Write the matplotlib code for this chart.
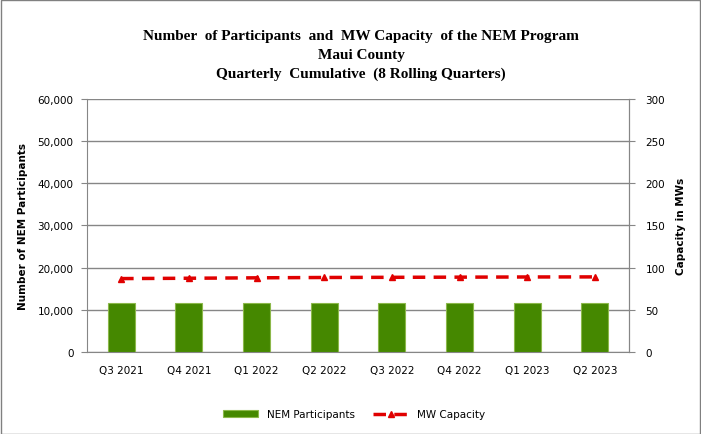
import matplotlib
matplotlib.use("Agg")
import matplotlib.pyplot as plt
import numpy as np
from matplotlib.patches import Rectangle

quarters = ["Q3 2021", "Q4 2021", "Q1 2022", "Q2 2022", "Q3 2022", "Q4 2022", "Q1 2023", "Q2 2023"]
participants = [11550, 11580, 11600, 11620, 11640, 11660, 11680, 11700]
mw_capacity = [87.0, 87.4, 87.9, 88.3, 88.5, 88.7, 88.9, 89.0]

title = ("Number  of Participants  and  MW Capacity  of the NEM Program\n"
         "Maui County\n"
         "Quarterly  Cumulative  (8 Rolling Quarters)")

fig = plt.figure(figsize=(7.01, 4.35), dpi=100)
fig.patch.set_facecolor("white")
fig.patches.append(Rectangle((0.001, 0.001), 0.997, 0.997, transform=fig.transFigure,
                             fill=False, edgecolor="#808080", linewidth=1.0))

ax = fig.add_axes([0.1245, 0.1885, 0.7725, 0.582])
x = np.arange(len(quarters))
ax.bar(x, participants, width=0.4, color="#458800", edgecolor="#8CB84A", linewidth=0.8,
       label="NEM Participants", zorder=3)
ax.set_xlim(-0.5, len(quarters) - 0.5)
ax.set_ylim(0, 60000)
ax.set_yticks(np.arange(0, 60001, 10000))
ax.set_yticklabels([f"{v:,}" for v in range(0, 60001, 10000)])
ax.set_xticks(x)
ax.set_xticklabels(quarters)
ax.grid(axis="y", color="#868686", linewidth=1.0, zorder=0)
ax.spines["top"].set_visible(False)
for s in ["left", "right", "bottom"]:
    ax.spines[s].set_color("#868686")
ax.tick_params(axis="y", length=4, color="#868686", labelsize=7.5, pad=6)
ax.tick_params(axis="x", length=0, labelsize=7.5, pad=9)
ax.set_ylabel("Number of NEM Participants", fontsize=7.5, fontweight="bold", labelpad=7)

ax2 = ax.twinx()
ax2.plot(x, mw_capacity, color="#E00000", linestyle=(0, (3.6, 2.4)), linewidth=2.5,
         marker="^", markersize=5, label="MW Capacity", zorder=4)
ax2.set_ylim(0, 300)
ax2.set_yticks(np.arange(0, 301, 50))
for s in ["top", "left", "bottom"]:
    ax2.spines[s].set_visible(False)
ax2.spines["right"].set_color("#868686")
ax2.tick_params(axis="y", length=4, color="#868686", labelsize=7.5, pad=8)
ax2.set_ylabel("Capacity in MWs", fontsize=7.5, fontweight="bold", labelpad=8)

fig.text(0.515, 0.93, title, ha="center", va="top", fontsize=11, fontweight="bold",
         family="Liberation Serif", linespacing=1.55)

h1, l1 = ax.get_legend_handles_labels()
h2, l2 = ax2.get_legend_handles_labels()
fig.legend(h1 + h2, l1 + l2, loc="center", bbox_to_anchor=(0.505, 0.045), ncol=2,
           frameon=False, fontsize=7.5, handlelength=3.4, columnspacing=1.8)

fig.savefig("out.png", dpi=100)
